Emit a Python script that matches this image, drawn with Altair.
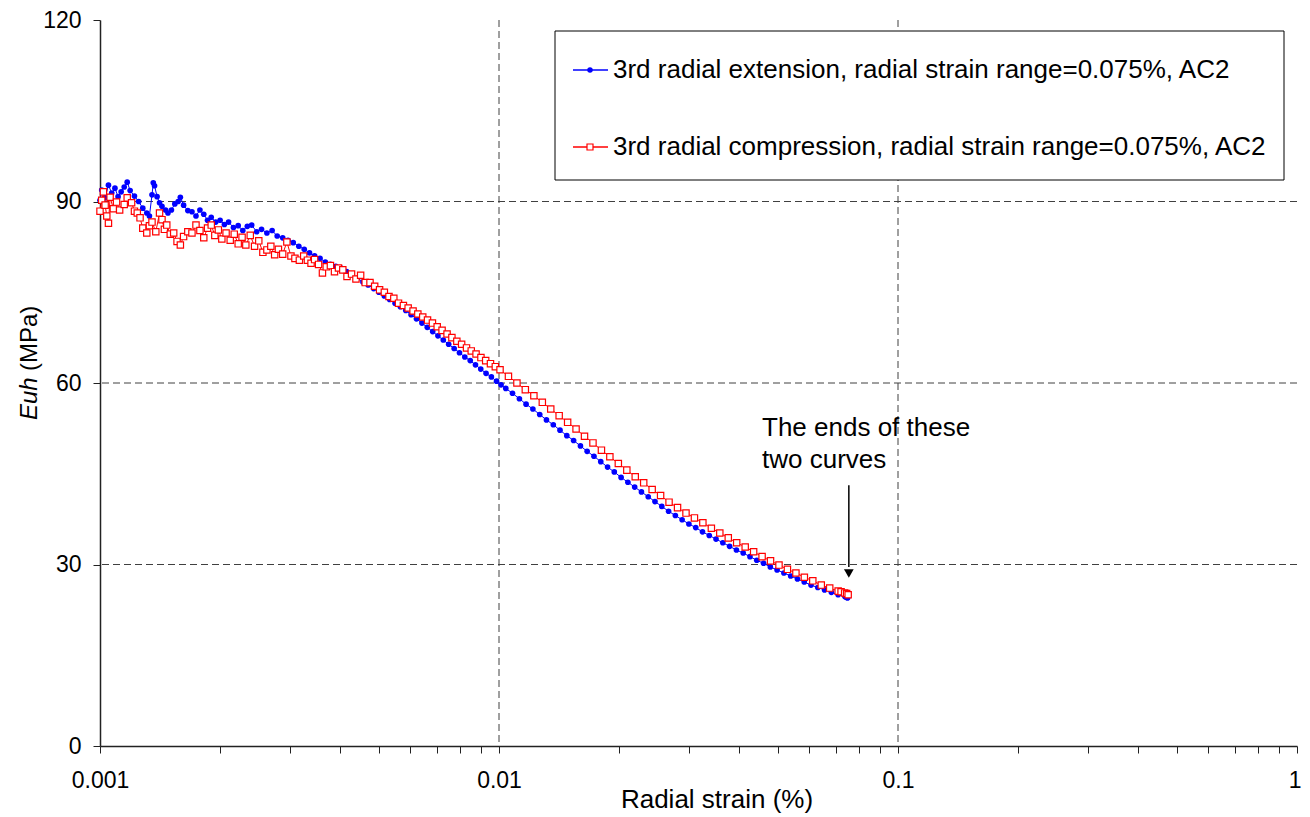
import altair as alt
import pandas as pd

FONT = "Liberation Sans"

# ---- data: (radial strain %, Euh MPa) ----
blue_pts = [
    (0.00100, 90.2), (0.00101, 91.9), (0.00103, 90.6), (0.00105, 92.7), (0.00107, 91.4),
    (0.00109, 92.2), (0.00111, 90.8), (0.00113, 91.6), (0.00115, 92.4), (0.00117, 93.2),
    (0.00119, 91.8), (0.00122, 90.9), (0.00125, 90.0), (0.00128, 88.9), (0.00131, 88.1),
    (0.00133, 87.6), (0.00135, 91.1), (0.00136, 93.1), (0.00137, 92.6), (0.00139, 90.8),
    (0.00141, 89.8), (0.00143, 89.2), (0.00146, 88.6), (0.00148, 88.1), (0.00151, 88.6),
    (0.00154, 89.6), (0.00157, 90.0), (0.00159, 90.7), (0.00162, 89.4), (0.00166, 88.5),
    (0.00170, 88.3), (0.00174, 87.6), (0.00178, 88.6), (0.00182, 87.9), (0.00186, 86.9),
    (0.00190, 87.4), (0.00195, 86.6), (0.00200, 86.9), (0.00205, 86.2), (0.00210, 86.6),
    (0.00216, 85.7), (0.00222, 86.0), (0.00228, 85.2), (0.00234, 85.9), (0.00240, 86.1),
    (0.00247, 85.0), (0.00254, 85.4), (0.00262, 84.8), (0.00270, 85.2), (0.00278, 84.3),
    (0.00287, 84.0), (0.00296, 83.6), (0.00305, 83.2), (0.00315, 82.6), (0.00325, 82.1),
    (0.00335, 81.5), (0.00345, 81.0), (0.00356, 80.6), (0.00367, 80.0), (0.00378, 79.6),
    (0.00390, 79.3), (0.00402, 79.0), (0.00415, 78.4), (0.00428, 77.9), (0.00442, 77.3),
    (0.00456, 76.7), (0.00470, 76.2), (0.00485, 75.6), (0.00500, 75.0), (0.00516, 74.4),
    (0.00532, 73.8), (0.00549, 73.2), (0.00566, 72.6), (0.00584, 72.0), (0.00602, 71.3),
    (0.00621, 70.6), (0.00641, 69.9), (0.00661, 69.2), (0.00682, 68.5), (0.00703, 67.8),
    (0.00725, 67.1), (0.00748, 66.4), (0.00772, 65.7), (0.00796, 65.0), (0.00821, 64.3),
    (0.00847, 63.7), (0.00873, 63.0), (0.00900, 62.3), (0.00928, 61.6), (0.00957, 61.0),
    (0.00986, 60.3), (0.01012, 59.7), (0.01040, 59.1), (0.01081, 58.3), (0.01125, 57.4),
    (0.01169, 56.5), (0.01216, 55.7), (0.01265, 54.8), (0.01315, 53.9), (0.01368, 53.1),
    (0.01422, 52.2), (0.01479, 51.3), (0.01538, 50.5), (0.01600, 49.6), (0.01663, 48.7),
    (0.01730, 47.9), (0.01799, 47.0), (0.01871, 46.1), (0.01945, 45.3), (0.02023, 44.4),
    (0.02104, 43.6), (0.02188, 42.8), (0.02275, 42.0), (0.02366, 41.2), (0.02460, 40.4),
    (0.02559, 39.6), (0.02661, 38.8), (0.02767, 38.1), (0.02877, 37.4), (0.02992, 36.7),
    (0.03112, 36.1), (0.03236, 35.4), (0.03365, 34.8), (0.03499, 34.2), (0.03639, 33.6),
    (0.03784, 33.0), (0.03936, 32.4), (0.04093, 31.9), (0.04256, 31.3), (0.04426, 30.7),
    (0.04603, 30.2), (0.04786, 29.6), (0.04977, 29.1), (0.05176, 28.6), (0.05383, 28.1),
    (0.05598, 27.6), (0.05821, 27.1), (0.06053, 26.6), (0.06295, 26.2), (0.06546, 25.8),
    (0.06808, 25.4), (0.07079, 25.0), (0.07362, 24.7), (0.07420, 24.6), (0.07460, 24.5),
    (0.07480, 24.5),
]

red_pts = [
    (0.00100, 88.4), (0.00101, 90.2), (0.00102, 91.6), (0.00103, 89.4), (0.00104, 87.6),
    (0.00105, 86.4), (0.00106, 90.7), (0.00108, 88.8), (0.00110, 89.9), (0.00112, 88.6),
    (0.00115, 89.5), (0.00117, 90.6), (0.00120, 89.8), (0.00122, 88.4), (0.00124, 88.1),
    (0.00126, 87.3), (0.00128, 85.6), (0.00131, 84.8), (0.00133, 86.0), (0.00135, 86.6),
    (0.00138, 85.0), (0.00141, 88.1), (0.00143, 87.0), (0.00145, 85.4), (0.00147, 86.1),
    (0.00150, 84.6), (0.00153, 84.8), (0.00156, 83.4), (0.00159, 82.8), (0.00162, 84.2),
    (0.00166, 85.0), (0.00170, 84.8), (0.00174, 86.1), (0.00178, 85.2), (0.00182, 84.0),
    (0.00186, 85.6), (0.00190, 86.1), (0.00194, 84.4), (0.00198, 85.3), (0.00202, 83.8),
    (0.00207, 84.8), (0.00212, 83.6), (0.00217, 84.6), (0.00222, 83.0), (0.00227, 84.1),
    (0.00232, 82.8), (0.00238, 84.4), (0.00244, 82.6), (0.00250, 83.5), (0.00256, 81.6),
    (0.00262, 82.0), (0.00268, 82.6), (0.00274, 81.2), (0.00280, 82.1), (0.00287, 81.3),
    (0.00294, 83.3), (0.00301, 81.0), (0.00308, 80.6), (0.00316, 80.3), (0.00324, 81.0),
    (0.00331, 80.3), (0.00338, 79.8), (0.00345, 80.4), (0.00353, 79.6), (0.00361, 78.2),
    (0.00369, 79.2), (0.00378, 79.4), (0.00387, 78.4), (0.00396, 79.0), (0.00406, 78.7),
    (0.00416, 77.6), (0.00427, 78.0), (0.00438, 77.2), (0.00450, 77.8), (0.00462, 76.6),
    (0.00475, 76.6), (0.00488, 76.0), (0.00502, 75.4), (0.00516, 75.0), (0.00530, 74.3),
    (0.00545, 74.0), (0.00560, 73.2), (0.00576, 72.8), (0.00592, 72.4), (0.00609, 71.9),
    (0.00626, 71.4), (0.00644, 70.9), (0.00662, 70.4), (0.00681, 69.9), (0.00700, 69.3),
    (0.00720, 68.7), (0.00741, 68.1), (0.00762, 67.5), (0.00784, 66.9), (0.00806, 66.4),
    (0.00829, 65.8), (0.00852, 65.3), (0.00876, 64.8), (0.00901, 64.2), (0.00926, 63.7),
    (0.00952, 63.2), (0.00979, 62.7), (0.01006, 62.2), (0.01056, 61.1), (0.01109, 60.0),
    (0.01164, 58.9), (0.01223, 57.9), (0.01284, 56.8), (0.01348, 55.7), (0.01415, 54.6),
    (0.01486, 53.5), (0.01560, 52.4), (0.01638, 51.2), (0.01720, 50.1), (0.01806, 48.9),
    (0.01896, 47.8), (0.01991, 46.7), (0.02091, 45.6), (0.02195, 44.5), (0.02305, 43.5),
    (0.02420, 42.4), (0.02541, 41.4), (0.02668, 40.3), (0.02802, 39.4), (0.02942, 38.5),
    (0.03089, 37.7), (0.03243, 36.9), (0.03406, 36.0), (0.03576, 35.2), (0.03755, 34.4),
    (0.03942, 33.6), (0.04140, 32.9), (0.04347, 32.1), (0.04564, 31.3), (0.04792, 30.6),
    (0.05032, 29.9), (0.05283, 29.2), (0.05548, 28.6), (0.05825, 27.9), (0.06116, 27.3),
    (0.06422, 26.6), (0.06743, 26.1), (0.07080, 25.6), (0.07200, 25.5), (0.07350, 25.3),
    (0.07434, 25.2), (0.07500, 25.0),
]

x_tick_values = [0.001, 0.002, 0.003, 0.004, 0.005, 0.006, 0.007, 0.008, 0.009,
                 0.01, 0.02, 0.03, 0.04, 0.05, 0.06, 0.07, 0.08, 0.09,
                 0.1, 0.2, 0.3, 0.4, 0.5, 0.6, 0.7, 0.8, 0.9, 1]
x_grid = [0.01, 0.1]
y_tick_values = [0, 30, 60, 90, 120]
y_grid = [30, 60, 90]

legend_labels = ["3rd radial extension, radial strain range=0.075%, AC2",
                 "3rd radial compression, radial strain range=0.075%, AC2"]
note_lines = ["The ends of these", "two curves"]
arrow = {"x": [0.0753], "y": [43.1], "y2": [29.6], "tip": [28.5]}

BLUE = "#0000FF"
RED = "#FF0000"
GRID = "#404040"
AXC = "#222222"

blue = pd.DataFrame(blue_pts, columns=["x", "y"])
red = pd.DataFrame(red_pts, columns=["x", "y"])
one = pd.DataFrame({"a": [0]})

xscale = alt.Scale(type="log", domain=[0.001, 1], nice=False)
yscale = alt.Scale(domain=[0, 120], nice=False, zero=True)

xaxis = alt.Axis(
    values=x_tick_values, grid=False, title=None,
    labelExpr="datum.value == 0.001 ? '0.001' : datum.value == 0.01 ? '0.01' : datum.value == 0.1 ? '0.1' : datum.value == 1 ? '1' : ''",
    labelOverlap=False, labelFlush=False, labelFont=FONT, labelFontSize=23,
    labelAlign={"condition": {"test": "datum.value == 1", "value": "right"}, "value": "center"},
    labelOffset={"condition": {"test": "datum.value == 1", "value": 4}, "value": 0},
    labelColor="black", labelPadding=16, tickSize=7, tickColor=AXC,
    domainColor=AXC, domainWidth=1.5, tickWidth=1,
)
yaxis = alt.Axis(
    values=y_tick_values, grid=False, title=None, labelFlush=False,
    labelFont=FONT, labelFontSize=23, labelColor="black", labelPadding=12,
    tickSize=7, tickColor=AXC, domainColor=AXC, domainWidth=1.5, tickWidth=1,
)

X = alt.X("x:Q", scale=xscale, axis=xaxis)
Y = alt.Y("y:Q", scale=yscale, axis=yaxis)

hgrid = alt.Chart(pd.DataFrame({"y": y_grid})).mark_rule(
    color=GRID, strokeDash=[7, 4], strokeWidth=1
).encode(y=Y)

vgrid = alt.Chart(pd.DataFrame({"x": x_grid})).mark_rule(
    color=GRID, strokeDash=[7, 4], strokeWidth=1
).encode(x=X)

blue_line = alt.Chart(blue).mark_line(color=BLUE, strokeWidth=1).encode(x=X, y=Y)
blue_pts_layer = alt.Chart(blue).mark_point(
    shape="circle", filled=True, color=BLUE, size=32, opacity=1
).encode(x=X, y=Y)

red_line = alt.Chart(red).mark_line(color=RED, strokeWidth=1).encode(x=X, y=Y)
red_pts_layer = alt.Chart(red).mark_point(
    shape="square", filled=True, fill="white", stroke=RED, strokeWidth=1.2,
    size=40, opacity=1, fillOpacity=1
).encode(x=X, y=Y)

# ---- legend (drawn by hand) ----
leg_box = alt.Chart(one).mark_rect(fill="white", stroke="black", strokeWidth=1).encode(
    x=alt.value(455), x2=alt.value(1184), y=alt.value(11), y2=alt.value(160)
)
leg_blue_line = alt.Chart(one).mark_rule(color=BLUE, strokeWidth=1.5).encode(
    x=alt.value(473), x2=alt.value(508), y=alt.value(50)
)
leg_blue_pt = alt.Chart(one).mark_point(shape="circle", filled=True, color=BLUE, size=30, opacity=1).encode(
    x=alt.value(490), y=alt.value(50)
)
leg_red_line = alt.Chart(one).mark_rule(color=RED, strokeWidth=1.5).encode(
    x=alt.value(473), x2=alt.value(508), y=alt.value(127)
)
leg_red_pt = alt.Chart(one).mark_point(shape="square", filled=True, fill="white", stroke=RED,
                                       strokeWidth=1.2, size=36, opacity=1).encode(
    x=alt.value(490), y=alt.value(127)
)
leg_t1 = alt.Chart(one).mark_text(text=legend_labels[0], align="left", baseline="middle",
                                  font=FONT, fontSize=26, color="black").encode(
    x=alt.value(513), y=alt.value(50))
leg_t2 = alt.Chart(one).mark_text(text=legend_labels[1], align="left", baseline="middle",
                                  font=FONT, fontSize=26, color="black").encode(
    x=alt.value(513), y=alt.value(127))

# ---- annotation ----
note1 = alt.Chart(one).mark_text(text=note_lines[0], align="left", baseline="middle",
                                 font=FONT, fontSize=26, color="black").encode(
    x=alt.value(662), y=alt.value(408))
note2 = alt.Chart(one).mark_text(text=note_lines[1], align="left", baseline="middle",
                                 font=FONT, fontSize=26, color="black").encode(
    x=alt.value(662), y=alt.value(440))
adf = pd.DataFrame(arrow)
arrow_shaft = alt.Chart(adf).mark_rule(color="black", strokeWidth=1.5).encode(
    x=alt.X("x:Q", scale=xscale), y=alt.Y("y:Q", scale=yscale), y2="y2:Q")
arrow_head = alt.Chart(adf).mark_point(shape="triangle-down", filled=True, color="black",
                                       size=95, opacity=1).encode(
    x=alt.X("x:Q", scale=xscale), y=alt.Y("tip:Q", scale=yscale))

# ---- axis titles ----
ytitle1 = alt.Chart(one).mark_text(text="Euh", angle=270, align="left", baseline="middle",
                                   font=FONT, fontSize=24, fontStyle="italic", color="black").encode(
    x=alt.value(-70), y=alt.value(400))
ytitle2 = alt.Chart(one).mark_text(text="(MPa)", angle=270, align="left", baseline="middle",
                                   font=FONT, fontSize=24, color="black").encode(
    x=alt.value(-70), y=alt.value(351))
xtitle = alt.Chart(one).mark_text(text="Radial strain (%)", align="center", baseline="middle",
                                  font=FONT, fontSize=26, color="black").encode(
    x=alt.value(617), y=alt.value(780))

chart = alt.layer(
    hgrid, vgrid, blue_line, blue_pts_layer, red_line, red_pts_layer,
    leg_box, leg_blue_line, leg_blue_pt, leg_red_line, leg_red_pt, leg_t1, leg_t2,
    arrow_shaft, arrow_head, note1, note2, ytitle1, ytitle2, xtitle,
).properties(
    width=1197, height=726,
    autosize=alt.AutoSizeParams(type="none"),
    padding={"left": 92, "top": 12, "right": 5, "bottom": 68},
    background="white",
).configure_view(stroke=None)

chart.save("out.html", embed_options={"renderer": "svg", "actions": False})
